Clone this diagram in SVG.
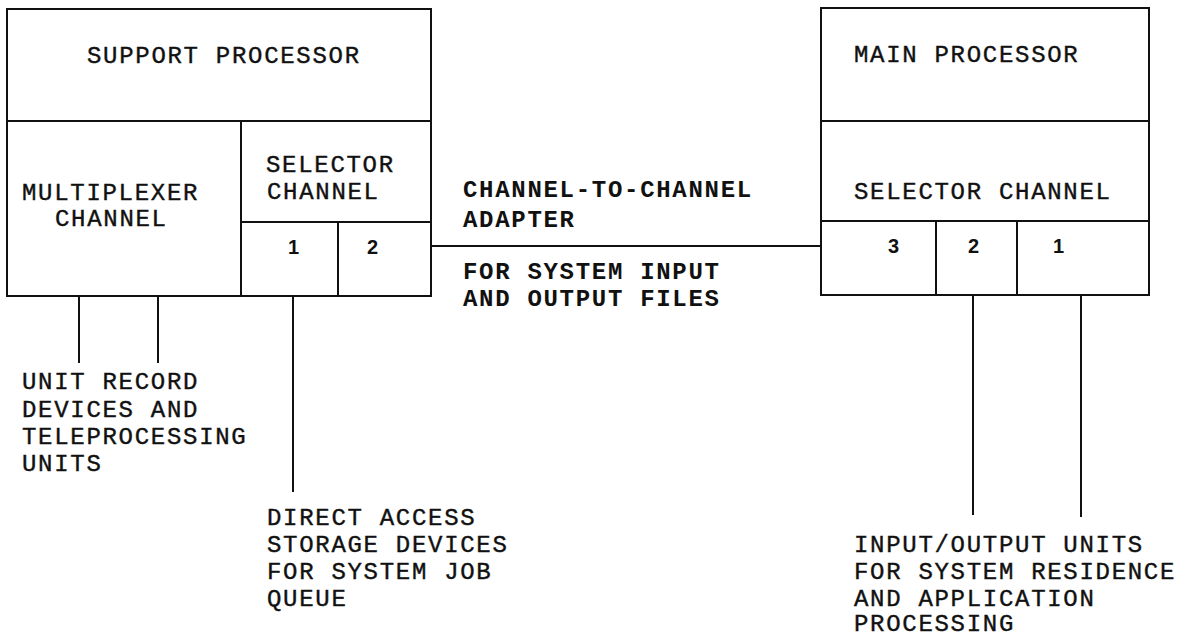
<svg xmlns="http://www.w3.org/2000/svg" width="1189" height="637" viewBox="0 0 1189 637">
<style>
.box{fill:none;stroke:#111;stroke-width:2}
.ln{stroke:#111;stroke-width:2;fill:none}
.t{font-family:"Liberation Mono","DejaVu Sans Mono",monospace;font-size:24px;letter-spacing:1.7px;fill:#111;stroke:#111;stroke-width:0.4px}
.b{font-weight:bold;stroke-width:0}
.d{font-family:"Liberation Sans",Arial,sans-serif;font-size:20px;font-weight:bold;fill:#111}
</style>
<rect width="1189" height="637" fill="#fff"/>
<g id="support-processor">
<rect class="box" x="7" y="9" width="424" height="287"/>
<line class="ln" x1="7" y1="121" x2="431" y2="121"/>
<line class="ln" x1="241" y1="121" x2="241" y2="296"/>
<line class="ln" x1="241" y1="222" x2="431" y2="222"/>
<line class="ln" x1="338" y1="222" x2="338" y2="296"/>
<text class="t" x="87" y="63">SUPPORT PROCESSOR</text>
<text class="t" x="22" y="200">MULTIPLEXER</text>
<text class="t" x="55" y="226">CHANNEL</text>
<text class="t" x="266" y="172">SELECTOR</text>
<text class="t" x="267" y="199">CHANNEL</text>
<text class="d" x="288" y="254">1</text>
<text class="d" x="367" y="254">2</text>
</g>
<g id="main-processor">
<rect class="box" x="821" y="8" width="328" height="287"/>
<line class="ln" x1="821" y1="121" x2="1149" y2="121"/>
<line class="ln" x1="821" y1="221" x2="1149" y2="221"/>
<line class="ln" x1="936" y1="221" x2="936" y2="295"/>
<line class="ln" x1="1017" y1="221" x2="1017" y2="295"/>
<text class="t" x="854" y="62">MAIN PROCESSOR</text>
<text class="t" x="854" y="199">SELECTOR CHANNEL</text>
<text class="d" x="888" y="253">3</text>
<text class="d" x="968" y="253">2</text>
<text class="d" x="1053" y="253">1</text>
</g>
<g id="adapter-label">
<text class="t b" x="463" y="197">CHANNEL-TO-CHANNEL</text>
<text class="t b" x="463" y="227">ADAPTER</text>
<text class="t b" x="463" y="279">FOR SYSTEM INPUT</text>
<text class="t b" x="463" y="306">AND OUTPUT FILES</text>
</g>
<g id="unit-record-devices">
<text class="t" x="22" y="389">UNIT RECORD</text>
<text class="t" x="22" y="417">DEVICES AND</text>
<text class="t" x="22" y="444">TELEPROCESSING</text>
<text class="t" x="22" y="471">UNITS</text>
</g>
<g id="direct-access-storage">
<text class="t" x="267" y="525">DIRECT ACCESS</text>
<text class="t" x="267" y="552">STORAGE DEVICES</text>
<text class="t" x="267" y="579">FOR SYSTEM JOB</text>
<text class="t" x="267" y="606">QUEUE</text>
</g>
<g id="io-units">
<text class="t" x="854" y="552">INPUT/OUTPUT UNITS</text>
<text class="t" x="854" y="579">FOR SYSTEM RESIDENCE</text>
<text class="t" x="854" y="606">AND APPLICATION</text>
<text class="t" x="854" y="631">PROCESSING</text>
</g>
<g id="connectors">
<line class="ln" x1="431" y1="246" x2="821" y2="246"/>
<line class="ln" x1="79" y1="296" x2="79" y2="363"/>
<line class="ln" x1="158" y1="296" x2="158" y2="363"/>
<line class="ln" x1="293" y1="296" x2="293" y2="492"/>
<line class="ln" x1="973" y1="295" x2="973" y2="515"/>
<line class="ln" x1="1081" y1="295" x2="1081" y2="517"/>
</g>
</svg>
